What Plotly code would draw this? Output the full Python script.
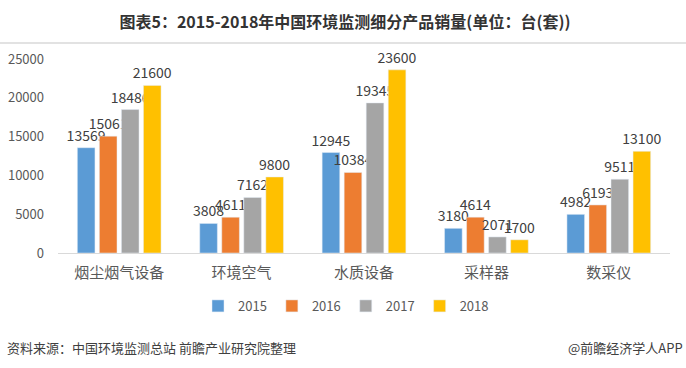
import plotly.graph_objects as go

categories = ["烟尘烟气设备", "环境空气", "水质设备", "采样器", "数采仪"]
years = ["2015", "2016", "2017", "2018"]
v2015 = [13569, 3808, 12945, 3180, 4982]
v2016 = [15061, 4611, 10384, 4614, 6193]
v2017 = [18486, 7162, 19345, 2071, 9511]
v2018 = [21600, 9800, 23600, 1700, 13100]
series = [v2015, v2016, v2017, v2018]
colors = ["#5B9BD5", "#ED7D31", "#A5A5A5", "#FFC000"]

FONT = "Noto Sans CJK SC"

fig = go.Figure()
for name, vals, col in zip(years, series, colors):
    fig.add_trace(go.Bar(
        x=categories, y=vals, name=name, marker_color=col,
        text=[str(v) for v in vals], textposition="outside",
        constraintext="none", cliponaxis=False,
        textfont=dict(family=FONT, size=14, color="#404040"),
    ))

fig.update_layout(
    width=686, height=368,
    margin=dict(l=58, r=16, t=59, b=115, autoexpand=False),
    paper_bgcolor="white", plot_bgcolor="white",
    barmode="group", bargap=0.28, bargroupgap=0.2,
    font=dict(family=FONT, color="#595959"),
    showlegend=True,
    legend=dict(orientation="h", x=(346 - 58) / 612, xanchor="center", y=-0.273, yanchor="middle",
                font=dict(family=FONT, size=13, color="#595959"),
                itemwidth=30, traceorder="normal"),
    title=dict(text="<b>图表5：2015-2018年中国环境监测细分产品销量(单位：台(套))</b>",
               x=(345 - 58) / 612, xref="paper", xanchor="center",
               y=1 - 22 / 368, yref="container", yanchor="middle",
               font=dict(family=FONT, size=16, color="#333333")),
)

fig.update_xaxes(showline=True, linecolor="#D9D9D9", linewidth=1, automargin=False,
                 showgrid=False, ticks="", ticklabelstandoff=6,
                 tickfont=dict(family=FONT, size=15, color="#595959"))
fig.update_yaxes(range=[0, 25000], dtick=5000, showgrid=False, zeroline=False,
                 showline=False, ticks="", ticklabelstandoff=13, automargin=False,
                 tickformat="d",
                 tickfont=dict(family=FONT, size=13, color="#595959"))

fig.add_shape(type="line", xref="paper", yref="paper",
              x0=-58 / 612, x1=628 / 612, y0=(253 - 43) / 194, y1=(253 - 43) / 194,
              line=dict(color="#D9D9D9", width=1.5))

fig.add_annotation(text="资料来源：中国环境监测总站 前瞻产业研究院整理",
                   xref="paper", yref="paper", x=-53 / 612, y=(253 - 347) / 194,
                   xanchor="left", yanchor="middle", showarrow=False,
                   font=dict(family=FONT, size=13, color="#404040"))
fig.add_annotation(text="@前瞻经济学人APP",
                   xref="paper", yref="paper", x=(685 - 58) / 612, y=(253 - 347) / 194,
                   xanchor="right", yanchor="middle", showarrow=False,
                   font=dict(family=FONT, size=13, color="#404040"))

fig.write_html("out.html", config={"displayModeBar": False},
               post_script="document.body.style.margin='0';")
